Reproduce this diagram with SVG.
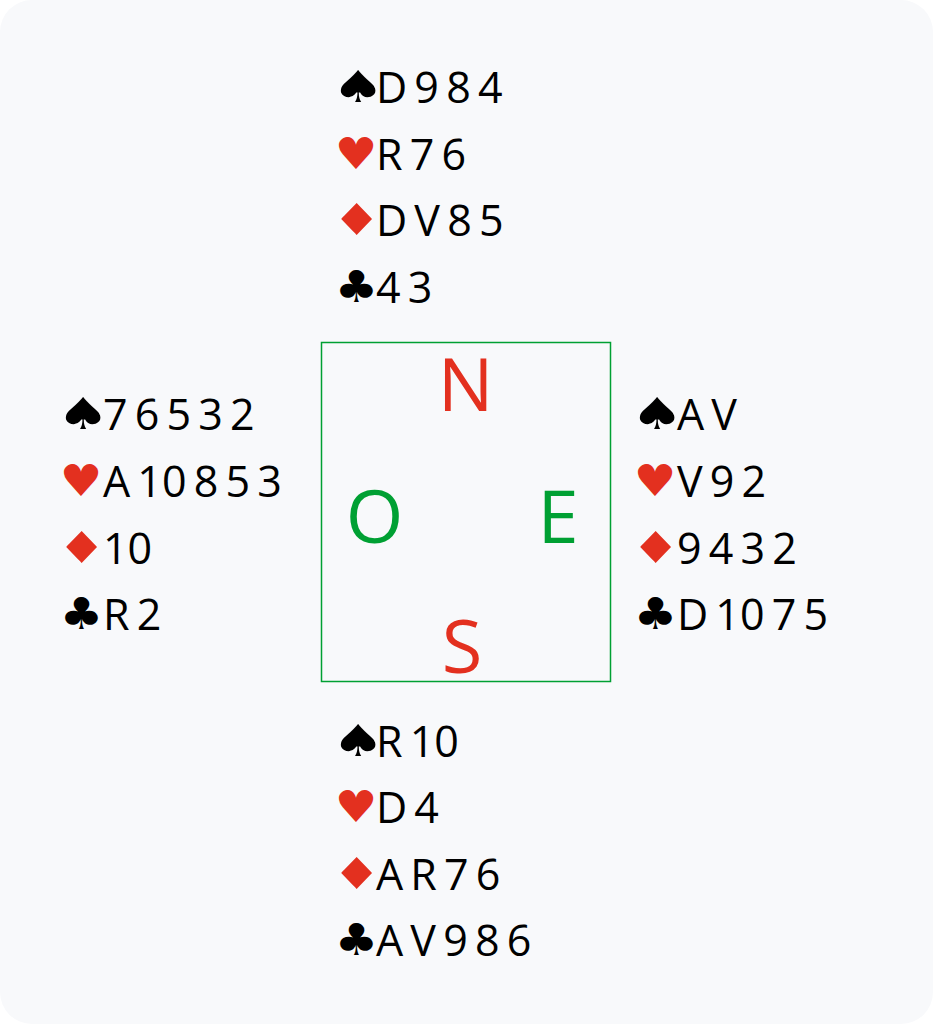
<svg xmlns="http://www.w3.org/2000/svg" width="933" height="1024" viewBox="0 0 933 1024">
<style>
.bg{fill:#f8f9fb}
.t{font-family:"Open Sans","Noto Sans",sans-serif;font-size:43px;fill:#000;word-spacing:-4px}
.s{font-family:"DejaVu Sans",sans-serif;font-size:44px}
.k{fill:#000}
.r{fill:#e3301f}
.c{font-family:"Open Sans","Noto Sans",sans-serif;font-size:74px;text-anchor:middle}
.g{fill:#00a033}
</style>
<defs>
<text id="sp" class="s k" transform="scale(1.35,1)" x="-4">♠</text>
<text id="he" class="s r" transform="scale(1.08,1)" x="-2">♥</text>
<text id="di" class="s r" transform="scale(1.25,1)" x="-4">♦</text>
<text id="cl" class="s k" transform="scale(1.1,1)" x="-2">♣</text>
</defs>
<rect width="933" height="1024" fill="#ffffff"/>
<rect class="bg" x="0" y="0" width="933" height="1024" rx="32" ry="32"/>
<g id="north">
<use href="#sp" x="337" y="102"/><text class="t" x="376" y="103">D 9 8 4</text>
<use href="#he" x="337" y="169"/><text class="t" x="376" y="170">R 7 6</text>
<use href="#di" x="337" y="235"/><text class="t" x="376" y="236">D V 8 5</text>
<use href="#cl" x="337" y="302"/><text class="t" x="376" y="303">4 3</text>
</g>
<g id="west">
<use href="#sp" x="62" y="429"/><text class="t" x="103" y="430">7 6 5 3 2</text>
<use href="#he" x="62" y="496"/><text class="t" x="103" y="497">A 10 8 5 3</text>
<use href="#di" x="62" y="563"/><text class="t" x="103" y="564">10</text>
<use href="#cl" x="62" y="629"/><text class="t" x="103" y="630">R 2</text>
</g>
<g id="east">
<use href="#sp" x="636" y="429"/><text class="t" x="677" y="430">A V</text>
<use href="#he" x="636" y="496"/><text class="t" x="677" y="497">V 9 2</text>
<use href="#di" x="636" y="563"/><text class="t" x="677" y="564">9 4 3 2</text>
<use href="#cl" x="636" y="629"/><text class="t" x="677" y="630">D 10 7 5</text>
</g>
<g id="south">
<use href="#sp" x="337" y="756"/><text class="t" x="376" y="757">R 10</text>
<use href="#he" x="337" y="822"/><text class="t" x="376" y="823">D 4</text>
<use href="#di" x="337" y="889"/><text class="t" x="376" y="890">A R 7 6</text>
<use href="#cl" x="337" y="955"/><text class="t" x="376" y="956">A V 9 8 6</text>
</g>
<g id="compass">
<rect x="321.5" y="342.5" width="289" height="339" fill="none" stroke="#00a033" stroke-width="1.5"/>
<text class="c r" x="465.5" y="411">N</text>
<text class="c g" x="374.5" y="543">O</text>
<text class="c g" x="558" y="543">E</text>
<text class="c r" x="462" y="673">S</text>
</g>
</svg>
